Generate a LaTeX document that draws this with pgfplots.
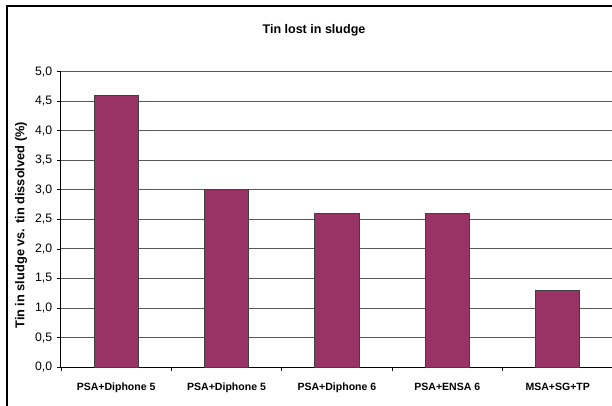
\documentclass[border=0pt]{standalone}
\usepackage{fontspec}
\setmainfont{Liberation Sans}
\usepackage{pgfplots}
\pgfplotsset{compat=1.18}
\definecolor{plum}{HTML}{993366}
\begin{document}
\begin{tikzpicture}[x=0.75pt,y=0.75pt]
\useasboundingbox (0,0) rectangle (612,405);
\clip (0,0) rectangle (612,405);
\fill[white] (0,0) rectangle (612,405);
\draw[black, line width=0.9pt] (7,-20) rectangle (640,399);
\node[font=\bfseries\fontsize{9.4}{10}\selectfont] at (314,375) {Tin lost in sludge};
\begin{axis}[
  at={(55.2,64.2)}, anchor=south west, scale only axis,
  width=414pt, height=221.5pt,
  xmin=0, xmax=5, ymin=0, ymax=5,
  axis lines=left, axis line style={-, line width=0.75pt, black},
  tick align=outside, major tick length=3pt,
  tick style={black, line width=0.6pt},
  xtick={0,1,2,3,4,5}, x tick label as interval,
  xticklabels={PSA+Diphone 5, PSA+Diphone 5, PSA+Diphone 6, PSA+ENSA 6, MSA+SG+TP},
  xticklabel style={font=\bfseries\fontsize{7.9}{9}\selectfont, yshift=-5.5pt},
  ytick={0,0.5,...,5},
  yticklabel style={font=\fontsize{9.2}{10}\selectfont},
  /pgf/number format/.cd, fixed, fixed zerofill, precision=1, use comma, assume math mode=true,
  /pgfplots/.cd,
  ymajorgrids, grid style={black!65, line width=0.7pt},
  ylabel={Tin in sludge vs. tin dissolved (\%)},
  ylabel style={font=\bfseries\fontsize{9.6}{11}\selectfont, at={(axis description cs:-0.072,0.48)}, anchor=center},
]
\addplot[ybar, bar width=0.4, fill=plum, draw=black!75, line width=0.6pt]
  coordinates {(0.5,4.6) (1.5,3.0) (2.5,2.6) (3.5,2.6) (4.5,1.3)};
\end{axis}
\end{tikzpicture}
\end{document}
